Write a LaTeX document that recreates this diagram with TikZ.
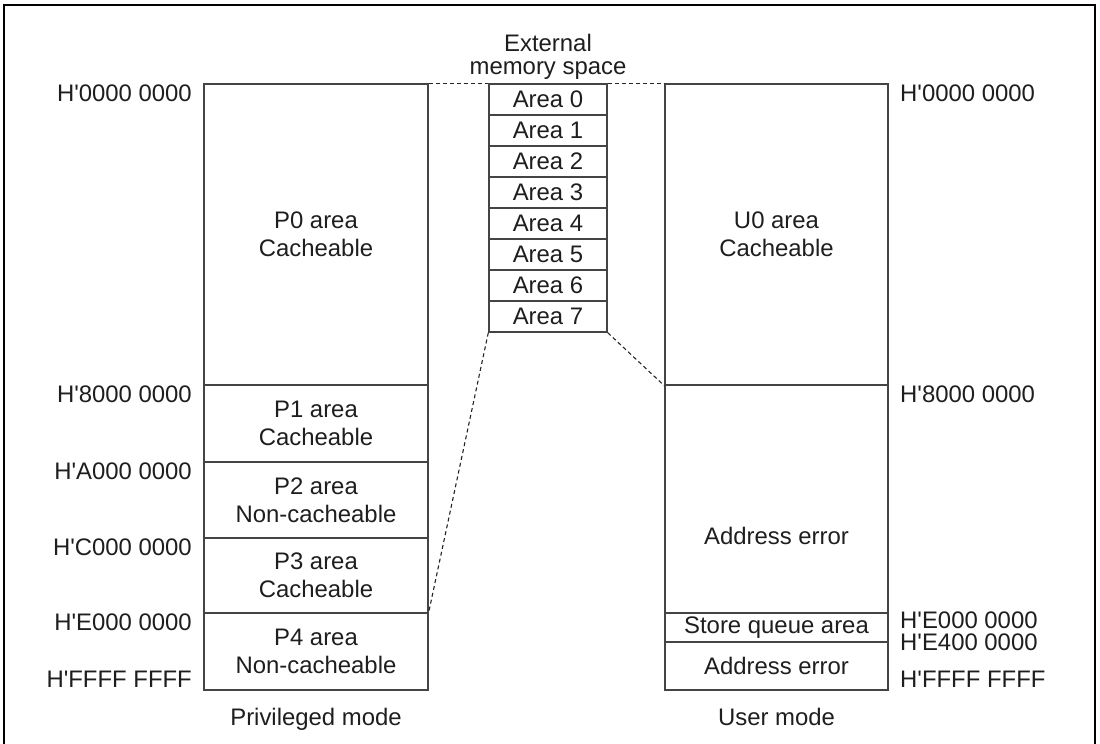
\documentclass[tikz,border=0pt]{standalone}
\usepackage{fontspec}
\setmainfont{Liberation Sans}
\definecolor{boxline}{HTML}{444444}
\definecolor{txt}{HTML}{1E1E1E}
\newcommand{\hq}{H\textquotesingle}
\begin{document}
\begin{tikzpicture}[x=1pt,y=-1pt,
  every node/.style={font=\fontsize{23.9}{28}\selectfont, text=txt},
  mbox/.style={draw=boxline, line width=1.4pt, rectangle, inner sep=0pt, align=center},
  lab/.style={inner sep=0pt},
  link/.style={draw=black!85, line width=1.1pt, dash pattern=on 4pt off 3pt}]
\useasboundingbox (0,0) rectangle (1100,744);
% outer frame
\draw[line width=2.6pt] (4,746) -- (4,5) -- (1095,5) -- (1095,746);
% privileged mode column
\node[mbox, minimum width=224pt, minimum height=301pt] (p0) at (316,234.5) {P0 area\\Cacheable};
\node[mbox, minimum width=224pt, minimum height=77pt] (p1) at (316,423.5) {P1 area\\Cacheable};
\node[mbox, minimum width=224pt, minimum height=76pt] (p2) at (316,500) {P2 area\\Non-cacheable};
\node[mbox, minimum width=224pt, minimum height=75pt] (p3) at (316,575.5) {P3 area\\Cacheable};
\node[mbox, minimum width=224pt, minimum height=77pt] (p4) at (316,651.5) {P4 area\\Non-cacheable};
% external memory column
\foreach \i in {0,...,7} {
  \node[mbox, minimum width=118pt, minimum height=31pt] (a\i) at (548,{99.5+31*\i}) {Area \i};
}
% user mode column
\node[mbox, minimum width=223pt, minimum height=301pt] (u0) at (776.5,234.5) {U0 area\\Cacheable};
\node[mbox, minimum width=223pt, minimum height=228pt] (ae1) at (776.5,499) {};
\node[lab] (ae1t) at (776.5,536) {Address error};
\node[mbox, minimum width=223pt, minimum height=29pt] (sq) at (776.5,627.5) {Store queue area};
\node[mbox, minimum width=223pt, minimum height=48pt] (ae2) at (776.5,666) {Address error};
% dashed connectors
\draw[link] (p0.north east) -- (a0.north west);
\draw[link] (a0.north east) -- (u0.north west);
\draw[link] (a7.south west) -- (p4.north east);
\draw[link] (a7.south east) -- (u0.south west);
% address labels, left
\node[lab, anchor=base east] (l0) at (192,101) {\hq0000 0000};
\node[lab, anchor=base east] (l8) at (192,402) {\hq8000 0000};
\node[lab, anchor=base east] (lA) at (192,479) {\hq A000 0000};
\node[lab, anchor=base east] (lC) at (192,555) {\hq C000 0000};
\node[lab, anchor=base east] (lE) at (192,630) {\hq E000 0000};
\node[lab, anchor=base east] (lF) at (192,687) {\hq FFFF FFFF};
% address labels, right
\node[lab, anchor=base west] (r0) at (900,101) {\hq0000 0000};
\node[lab, anchor=base west] (r8) at (900,402) {\hq8000 0000};
\node[lab, anchor=base west] (rE) at (900,628) {\hq E000 0000};
\node[lab, anchor=base west] (rE4) at (900,650) {\hq E400 0000};
\node[lab, anchor=base west] (rF) at (900,687) {\hq FFFF FFFF};
% titles
\node[lab, anchor=base] (ext1) at (548,51) {External};
\node[lab, anchor=base] (ext2) at (548,74) {memory space};
\node[lab, anchor=base] (pm) at (316,725) {Privileged mode};
\node[lab, anchor=base] (um) at (776.5,725) {User mode};
\end{tikzpicture}
\end{document}
